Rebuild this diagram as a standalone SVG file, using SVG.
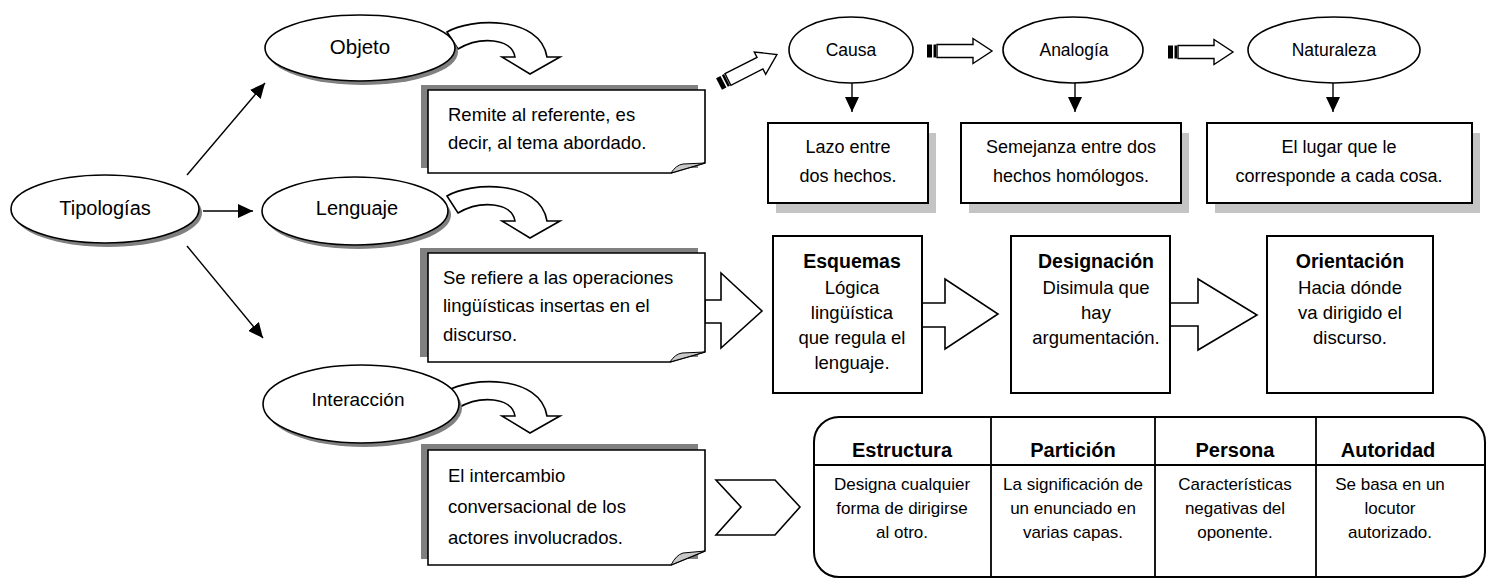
<svg xmlns="http://www.w3.org/2000/svg" width="1493" height="579" viewBox="0 0 1493 579">
<style>
.t{font-family:"Liberation Sans",Arial,sans-serif;fill:#000}
.b{font-weight:bold}
.c{text-anchor:middle}
.ln{stroke:#000;stroke-width:1.4;fill:none}
.sh{fill:#808080}
.shl{fill:#c4c4c4}
.wf{fill:#fff;stroke:#000;stroke-width:1.6}
.bx{fill:#fff;stroke:#000;stroke-width:2}
.fold{fill:#c8c8c8;stroke:#000;stroke-width:1}
</style>
<defs>
<marker id="ah" viewBox="0 0 15 14" refX="15" refY="7" markerWidth="15" markerHeight="14" markerUnits="userSpaceOnUse" orient="auto">
<path d="M0,0 L15,7 L0,14 Z" fill="#000"/>
</marker>
<path id="ca" d="M447,32 C470,18 540,15 547,57 L560,57 L530,74 L502,57 L515,57 C512,38 480,36 458,49 Z"/>
<g id="sa">
<rect x="0" y="-6.5" width="5" height="13" fill="#000"/>
<rect x="6.5" y="-6.5" width="2.5" height="13" fill="#000"/>
<path d="M10,-6.5 L46,-6.5 L46,-12.5 L65,0 L46,12.5 L46,6.5 L10,6.5 Z" fill="#fff" stroke="#000" stroke-width="1.4"/>
</g>
</defs>
<rect width="1493" height="579" fill="#fff"/>

<g id="connectors">
<line class="ln" x1="187" y1="175" x2="265" y2="83" marker-end="url(#ah)"/>
<line class="ln" x1="203" y1="211" x2="253" y2="211" marker-end="url(#ah)"/>
<line class="ln" x1="187" y1="246" x2="263" y2="338" marker-end="url(#ah)"/>
<use href="#ca" class="wf"/>
<use href="#ca" class="wf" transform="translate(0,164)"/>
<use href="#ca" class="wf" transform="translate(0,359)"/>
<use href="#sa" transform="translate(719,84) rotate(-27)"/>
<use href="#sa" transform="translate(927,51)"/>
<use href="#sa" transform="translate(1168,52)"/>
<line class="ln" x1="852" y1="83" x2="852" y2="112" marker-end="url(#ah)"/>
<line class="ln" x1="1075" y1="83" x2="1075" y2="112" marker-end="url(#ah)"/>
<line class="ln" x1="1333" y1="83" x2="1333" y2="112" marker-end="url(#ah)"/>
<path class="wf" d="M705,300 L721,300 L721,273 L762,311 L721,348 L721,323 L705,323 Z"/>
<path class="wf" d="M922,303 L945,303 L945,279 L998,314 L945,349 L945,327 L922,327 Z"/>
<path class="wf" d="M1170,303 L1198,303 L1198,279 L1257,315 L1198,350 L1198,326 L1170,326 Z"/>
<path class="wf" d="M716,480 L775,480 L800,507 L775,535 L716,535 L741,507 Z"/>
</g>

<g id="tipologias">
<ellipse class="sh" cx="108" cy="213" rx="94" ry="34"/>
<ellipse class="wf" cx="105" cy="209" rx="94" ry="34"/>
<text class="t c" x="105" y="215" font-size="20">Tipologías</text>
</g>

<g id="objeto">
<ellipse class="sh" cx="363" cy="52" rx="95" ry="33"/>
<ellipse class="wf" cx="360" cy="48" rx="95" ry="33"/>
<text class="t c" x="360" y="54" font-size="20.5">Objeto</text>
</g>

<g id="lenguaje">
<ellipse class="sh" cx="358" cy="215" rx="93" ry="34"/>
<ellipse class="wf" cx="355" cy="211" rx="93" ry="34"/>
<text class="t c" x="357" y="215" font-size="20">Lenguaje</text>
</g>

<g id="interaccion">
<ellipse class="sh" cx="364" cy="408" rx="98" ry="39"/>
<ellipse class="wf" cx="361" cy="404" rx="98" ry="39"/>
<text class="t c" x="358" y="406" font-size="19">Interacción</text>
</g>

<g id="nota-objeto">
<rect class="sh" x="421" y="85" width="277" height="83"/>
<path class="wf" d="M428,90 H705 V163 L671,173 H428 Z"/>
<path class="fold" d="M671,173 Q676,165 683,164 L705,163 Z"/>
<text class="t" x="448" y="121" font-size="18.5">Remite al referente, es</text>
<text class="t" x="448" y="149" font-size="18.5">decir, al tema abordado.</text>
</g>

<g id="nota-lenguaje">
<rect class="sh" x="420" y="248" width="278" height="109"/>
<path class="wf" d="M428,253 H705 V352 L670,362 H428 Z"/>
<path class="fold" d="M670,362 Q675,354 682,353 L705,352 Z"/>
<text class="t" x="443" y="284" font-size="18.5">Se refiere a las operaciones</text>
<text class="t" x="443" y="312" font-size="18.5">lingüísticas insertas en el</text>
<text class="t" x="443" y="341" font-size="18.5">discurso.</text>
</g>

<g id="nota-interaccion">
<rect class="sh" x="421" y="444" width="277" height="115"/>
<path class="wf" d="M428,450 H705 V551 L671,565 H428 Z"/>
<path class="fold" d="M671,565 Q676,555 683,553 L705,551 Z"/>
<text class="t" x="448" y="482" font-size="18.5">El intercambio</text>
<text class="t" x="448" y="513" font-size="18.5">conversacional de los</text>
<text class="t" x="448" y="544" font-size="18.5">actores involucrados.</text>
</g>

<g id="causa">
<ellipse class="wf" cx="851" cy="50" rx="62" ry="33"/>
<text class="t c" x="851" y="56" font-size="17.5">Causa</text>
</g>
<g id="analogia">
<ellipse class="wf" cx="1073" cy="50" rx="70" ry="33"/>
<text class="t c" x="1074" y="56" font-size="17.5">Analogía</text>
</g>
<g id="naturaleza">
<ellipse class="wf" cx="1334" cy="50" rx="86" ry="33"/>
<text class="t c" x="1334" y="56" font-size="17.5">Naturaleza</text>
</g>

<g id="lazo">
<rect class="shl" x="776" y="133" width="160" height="80"/>
<rect class="bx" x="768" y="123" width="160" height="80"/>
<text class="t c" x="848" y="153" font-size="18">Lazo entre</text>
<text class="t c" x="848" y="182" font-size="18">dos hechos.</text>
</g>
<g id="semejanza">
<rect class="shl" x="969" y="133" width="220" height="80"/>
<rect class="bx" x="961" y="123" width="220" height="80"/>
<text class="t c" x="1071" y="153" font-size="18">Semejanza entre dos</text>
<text class="t c" x="1071" y="182" font-size="18">hechos homólogos.</text>
</g>
<g id="lugar">
<rect class="shl" x="1215" y="133" width="265" height="80"/>
<rect class="bx" x="1207" y="123" width="265" height="80"/>
<text class="t c" x="1339" y="153" font-size="18">El lugar que le</text>
<text class="t c" x="1339" y="182" font-size="18">corresponde a cada cosa.</text>
</g>

<g id="esquemas">
<rect class="bx" x="773" y="236" width="149" height="157"/>
<text class="t c b" x="852" y="268" font-size="19.5">Esquemas</text>
<text class="t c" x="852" y="294" font-size="18.5">Lógica</text>
<text class="t c" x="852" y="319" font-size="18.5">lingüística</text>
<text class="t c" x="852" y="344" font-size="18.5">que regula el</text>
<text class="t c" x="852" y="369" font-size="18.5">lenguaje.</text>
</g>
<g id="designacion">
<rect class="bx" x="1011" y="236" width="159" height="157"/>
<text class="t c b" x="1096" y="268" font-size="19.5">Designación</text>
<text class="t c" x="1096" y="294" font-size="18.5">Disimula que</text>
<text class="t c" x="1096" y="319" font-size="18.5">hay</text>
<text class="t c" x="1096" y="344" font-size="18.5">argumentación.</text>
</g>
<g id="orientacion">
<rect class="bx" x="1267" y="236" width="166" height="157"/>
<text class="t c b" x="1350" y="268" font-size="19.5">Orientación</text>
<text class="t c" x="1350" y="294" font-size="18.5">Hacia dónde</text>
<text class="t c" x="1350" y="319" font-size="18.5">va dirigido el</text>
<text class="t c" x="1350" y="344" font-size="18.5">discurso.</text>
</g>

<g id="tabla">
<rect class="bx" x="814" y="417" width="671" height="160" rx="25" ry="25"/>
<path d="M814,465 H1485 M991,417 V577 M1155,417 V577 M1316,417 V577" stroke="#000" stroke-width="1.8" fill="none"/>
<text class="t c b" x="902" y="457" font-size="20">Estructura</text>
<text class="t c b" x="1073" y="457" font-size="20">Partición</text>
<text class="t c b" x="1235" y="457" font-size="20">Persona</text>
<text class="t c b" x="1388" y="457" font-size="20">Autoridad</text>
<text class="t c" x="902" y="490" font-size="17">Designa cualquier</text>
<text class="t c" x="902" y="514" font-size="17">forma de dirigirse</text>
<text class="t c" x="902" y="538" font-size="17">al otro.</text>
<text class="t c" x="1073" y="490" font-size="17">La significación de</text>
<text class="t c" x="1073" y="514" font-size="17">un enunciado en</text>
<text class="t c" x="1073" y="538" font-size="17">varias capas.</text>
<text class="t c" x="1235" y="490" font-size="17">Características</text>
<text class="t c" x="1235" y="514" font-size="17">negativas del</text>
<text class="t c" x="1235" y="538" font-size="17">oponente.</text>
<text class="t c" x="1390" y="490" font-size="17">Se basa en un</text>
<text class="t c" x="1390" y="514" font-size="17">locutor</text>
<text class="t c" x="1390" y="538" font-size="17">autorizado.</text>
</g>
</svg>
